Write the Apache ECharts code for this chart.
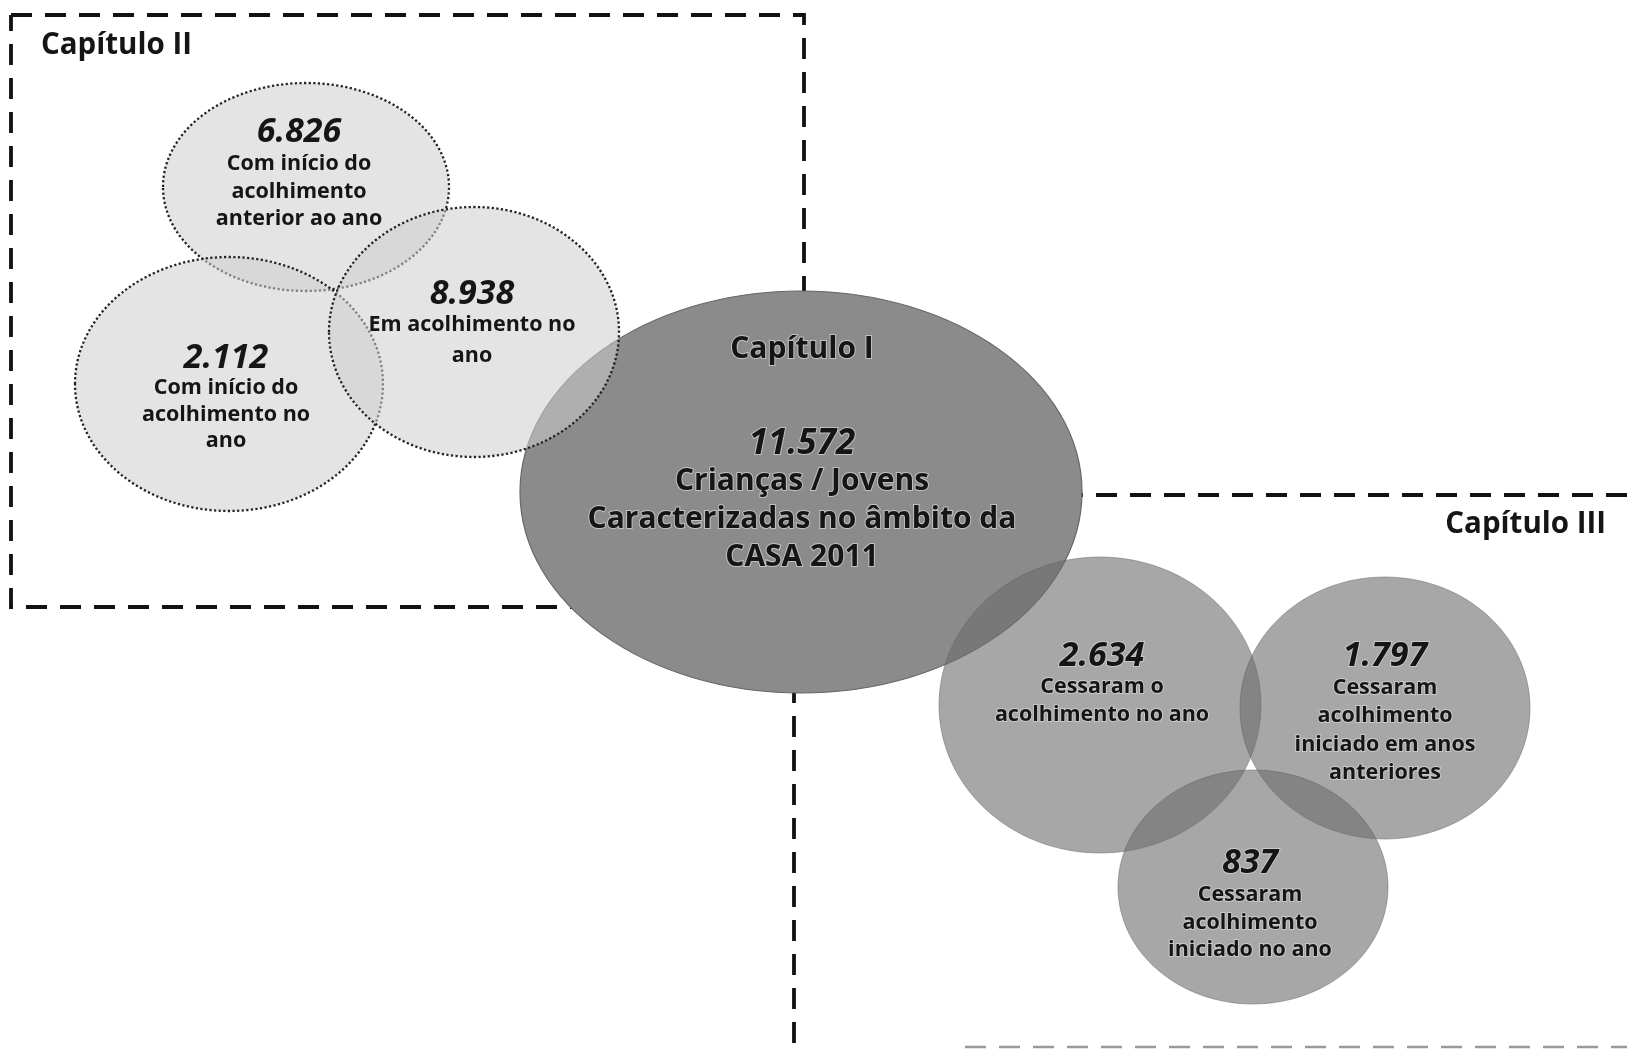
<!DOCTYPE html>
<html><head><meta charset="utf-8">
<script src="https://cdn.jsdelivr.net/npm/echarts@6/dist/echarts.min.js"></script>
<style>html,body{margin:0;padding:0;background:#fff}#c{width:1627px;height:1050px}</style>
</head><body><div id="c"></div>
<script>
// ---- data ----
const values = [6826, 2112, 8938, 11572, 2634, 1797, 837];
const headings = ['', '', '', 'Capítulo I', '', '', ''];
const descriptions = [
  ['Com início do', 'acolhimento', 'anterior ao ano'],
  ['Com início do', 'acolhimento no', 'ano'],
  ['Em acolhimento no', 'ano'],
  ['Crianças / Jovens', 'Caracterizadas no âmbito da', 'CASA 2011'],
  ['Cessaram o', 'acolhimento no ano'],
  ['Cessaram', 'acolhimento', 'iniciado em anos', 'anteriores'],
  ['Cessaram', 'acolhimento', 'iniciado no ano']
];
const groups = ['II', 'II', 'II', 'I', 'III', 'III', 'III'];
const chapterTitles = ['Capítulo II', 'Capítulo III'];

// ---- layout (pixel space of a hidden 1627 x 1050 value grid) ----
const layout = [
  {cx:306,  cy:187, rx:143, ry:104, tx:299,  ny:132, ly:164, lh:27.5},
  {cx:229,  cy:384, rx:154, ry:127, tx:226,  ny:358, ly:388, lh:26.5},
  {cx:474,  cy:332, rx:145, ry:125, tx:472,  ny:294, ly:325, lh:31},
  {cx:801,  cy:492, rx:281, ry:201, tx:802,  ny:444, ly:481, lh:38, hy:349},
  {cx:1100, cy:705, rx:161, ry:148, tx:1102, ny:656, ly:687, lh:28},
  {cx:1385, cy:708, rx:145, ry:131, tx:1385, ny:656, ly:688, lh:28.3},
  {cx:1253, cy:887, rx:135, ry:117, tx:1250, ny:863, ly:895, lh:27.5}
];
const drawOrder = [0, 1, 3, 2, 4, 5, 6];
const frames = [
  {pts:[[11,15],[804,15],[804,607],[11,607],[11,15]], color:'#111', w:3.8},
  {pts:[[1627,495],[794,495],[794,1050]], color:'#111', w:3.8},
  {pts:[[965,1047],[1627,1047]], color:'#9a9a9a', w:2.5}
];
const titlePos = [{x:41, y:46, align:'left'}, {x:1606, y:525, align:'right'}];

const FONT = '"Open Sans", "Noto Sans", sans-serif';
const fmt = v => v.toLocaleString('de-DE');

const styles = {
  II:  {fill:'rgba(205,205,205,0.55)', stroke:'#222', lineWidth:2.3, lineDash:[2.2,2.4]},
  I:   {fill:'#8b8b8b', stroke:'#666', lineWidth:1.2},
  III: {fill:'rgba(108,108,108,0.6)', stroke:'rgba(90,90,90,0.45)', lineWidth:1}
};

const chart = echarts.init(document.getElementById('c'), null, {renderer:'canvas'});

function pt(api, p) { return api.coord(p); }

const option = {
  animation: false,
  backgroundColor: '#fff',
  grid: {left:0, right:0, top:0, bottom:0},
  xAxis: {type:'value', min:0, max:1627, show:false},
  yAxis: {type:'value', min:0, max:1050, inverse:true, show:false},
  series: [
    {
      type:'custom', name:'frames', z:1,
      data: frames.map((f, i) => [f.pts[0][0], f.pts[0][1], i]),
      renderItem: (params, api) => {
        const f = frames[params.dataIndex];
        return {
          type:'polyline',
          shape:{points: f.pts.map(p => pt(api, p))},
          style:{stroke:f.color, lineWidth:f.w, lineDash:[21,13], fill:null}
        };
      }
    },
    {
      type:'custom', name:'ellipses', z:2,
      data: drawOrder.map(i => [layout[i].cx, layout[i].cy, i]),
      renderItem: (params, api) => {
        const i = drawOrder[params.dataIndex];
        const L = layout[i];
        const c = pt(api, [L.cx, L.cy]);
        const e = pt(api, [L.cx + L.rx, L.cy + L.ry]);
        const s = styles[groups[i]];
        return {
          type:'ellipse',
          shape:{cx:c[0], cy:c[1], rx:e[0]-c[0], ry:e[1]-c[1]},
          style:{fill:s.fill, stroke:s.stroke, lineWidth:s.lineWidth, lineDash:s.lineDash || null}
        };
      }
    },
    {
      type:'custom', name:'labels', z:3,
      data: values.map((v, i) => [layout[i].tx, layout[i].ny, i]),
      renderItem: (params, api) => {
        const i = params.dataIndex;
        const L = layout[i];
        const big = groups[i] === 'I';
        const halo = groups[i] === 'II' ? {} : {stroke:'rgba(215,215,215,0.7)', lineWidth:2};
        const children = [];
        const np = pt(api, [L.tx, L.ny]);
        children.push({
          type:'text', x:np[0], y:np[1],
          style:Object.assign({text:fmt(values[i]), fill:'#151515', align:'center', verticalAlign:'middle',
            font:'italic bold ' + (big ? 35 : 34) + 'px ' + FONT}, halo)
        });
        const lp = pt(api, [L.tx, L.ly - L.lh/2]);
        children.push({
          type:'text', x:lp[0], y:lp[1],
          style:Object.assign({text:descriptions[i].join('\n'), fill:'#151515', align:'center', verticalAlign:'top',
            lineHeight:L.lh, font:(big ? 'bold 30px ' : 'bold 21.5px ') + FONT}, halo)
        });
        if (headings[i]) {
          const hp = pt(api, [L.tx, L.hy]);
          children.push({
            type:'text', x:hp[0], y:hp[1],
            style:Object.assign({text:headings[i], fill:'#151515', align:'center', verticalAlign:'middle',
              font:'bold 30px ' + FONT}, halo)
          });
        }
        return {type:'group', children};
      }
    },
    {
      type:'custom', name:'titles', z:4,
      data: chapterTitles.map((t, i) => [titlePos[i].x, titlePos[i].y, i]),
      renderItem: (params, api) => {
        const i = params.dataIndex;
        const p = pt(api, [titlePos[i].x, titlePos[i].y]);
        return {
          type:'text', x:p[0], y:p[1],
          style:{text:chapterTitles[i], fill:'#151515', align:titlePos[i].align, verticalAlign:'middle',
            font:'bold 29.5px ' + FONT}
        };
      }
    }
  ]
};
chart.setOption(option);
</script>
</body></html>
